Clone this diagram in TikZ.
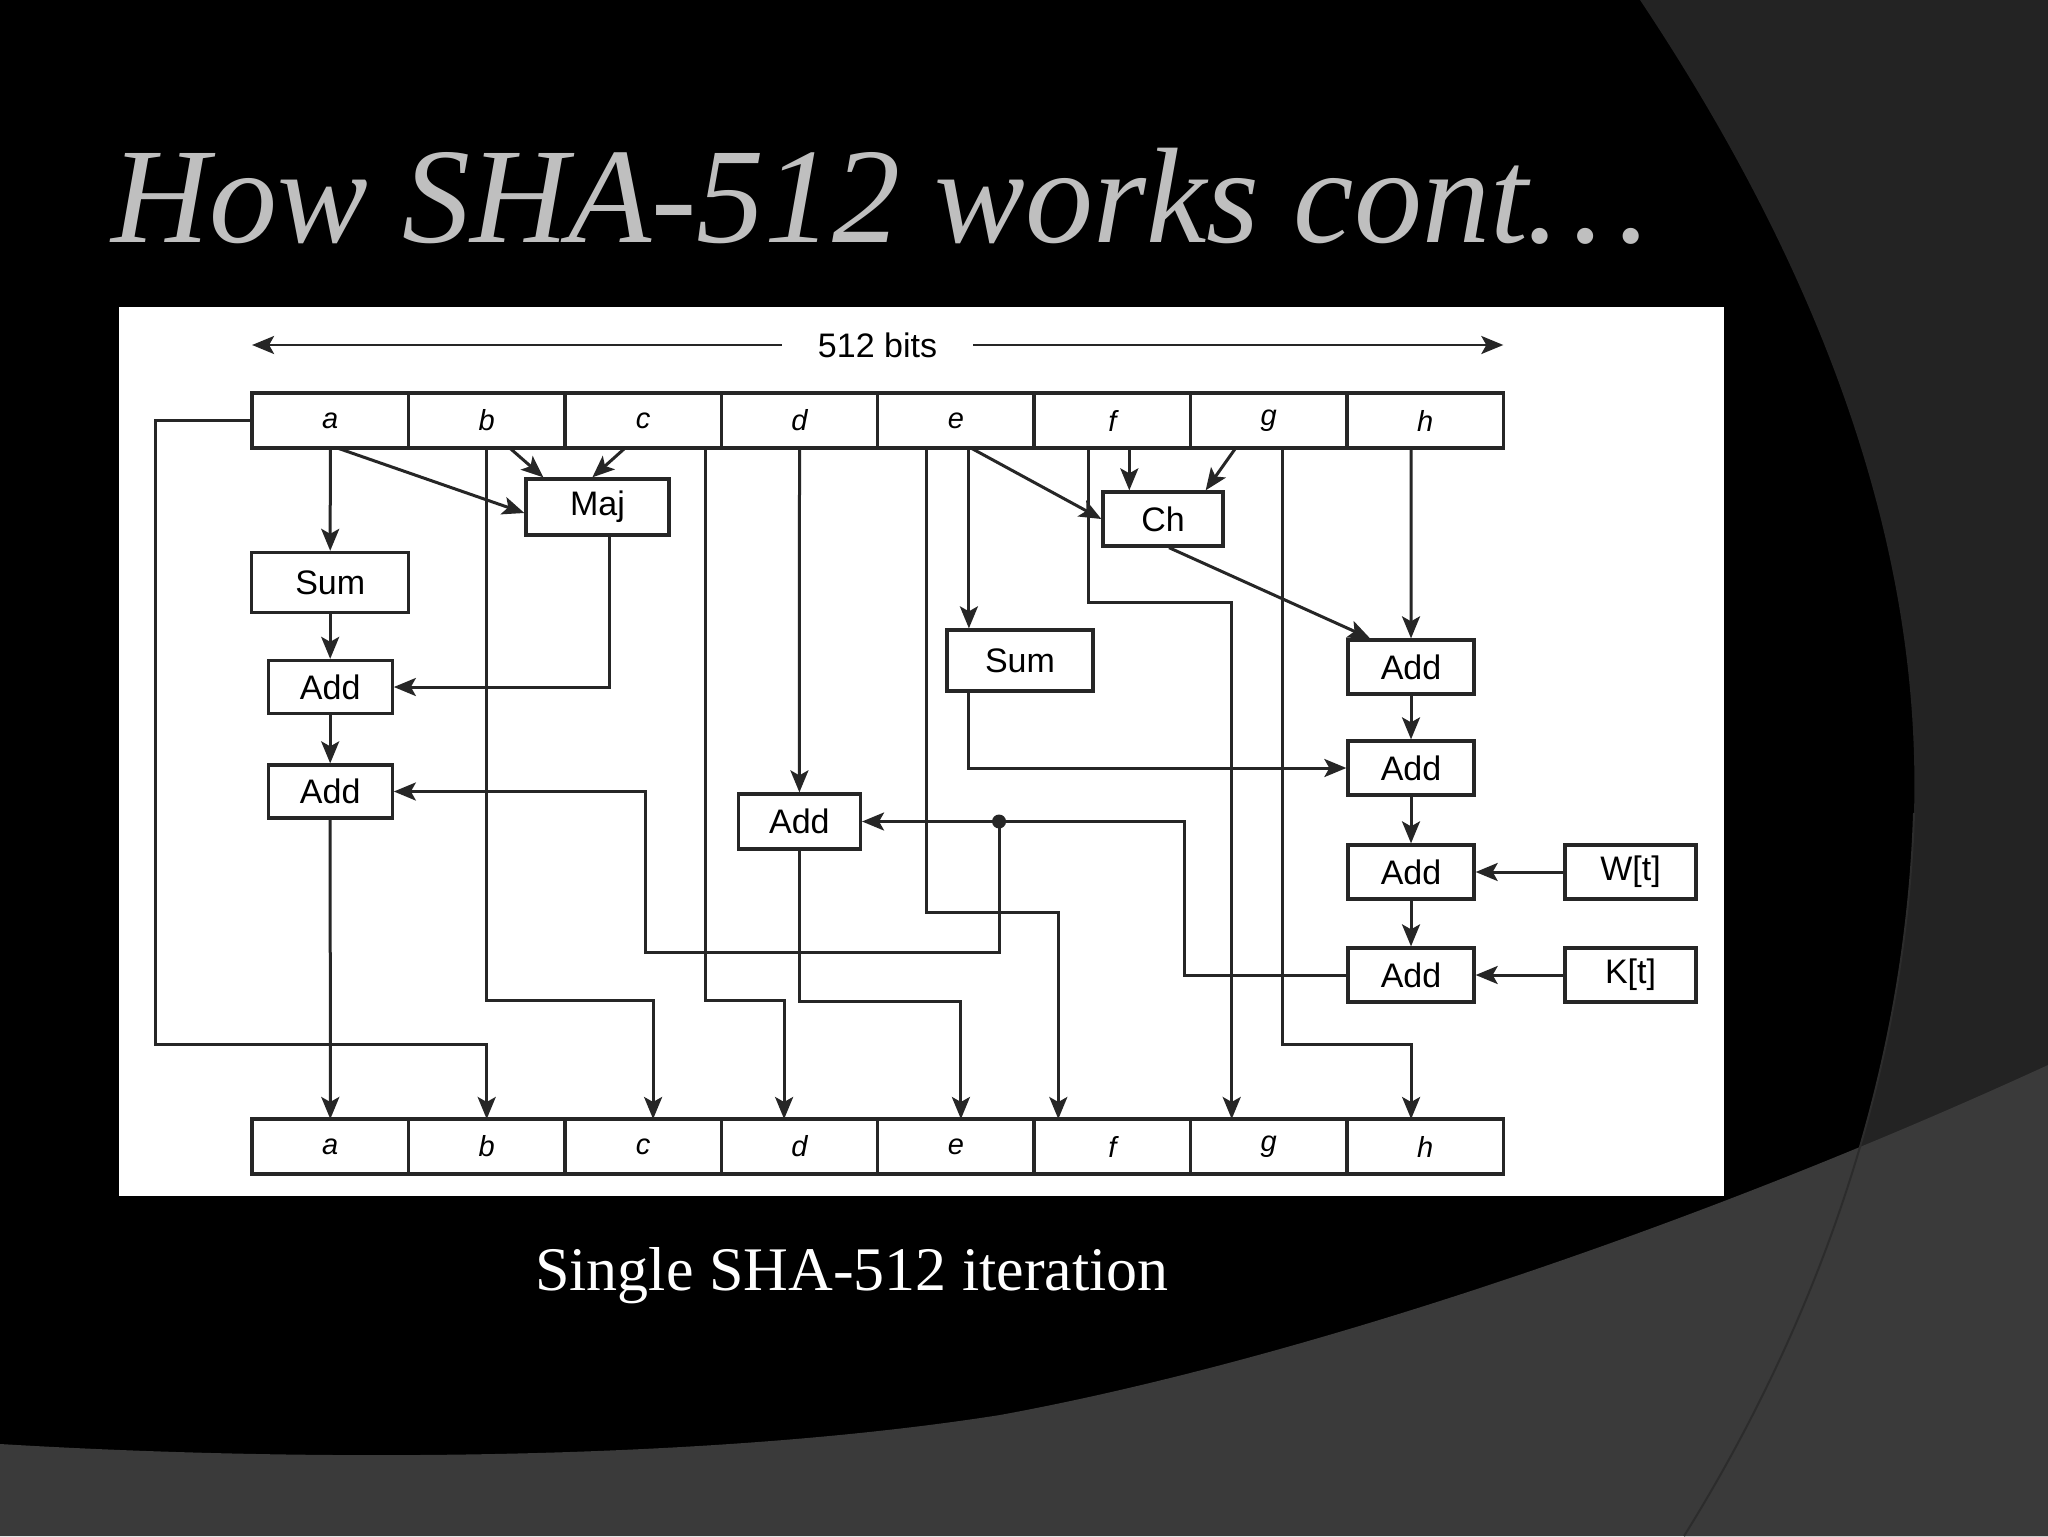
\documentclass[tikz,border=0pt]{standalone}
\usepackage{fontspec}
\setmainfont{Liberation Serif}
\newfontfamily\diagfont{Liberation Sans}
\usetikzlibrary{arrows.meta,calc}
\definecolor{bgdark}{HTML}{232323}
\definecolor{bgmid}{HTML}{3A3A3A}
\definecolor{titlegray}{HTML}{BFBFBF}
\definecolor{ink}{HTML}{262626}
\begin{document}
\begin{tikzpicture}[x=0.5pt,y=-0.5pt,
  boxnode/.style={draw=ink, line width=1.65pt, fill=white, inner sep=0pt,
    font=\diagfont\fontsize{17}{20}\selectfont},
  cellnode/.style={draw=ink, line width=1.65pt, fill=white, inner sep=0pt, outer sep=0pt,
    minimum width=78.2pt, minimum height=27.5pt,
    font=\diagfont\itshape\fontsize{14.5}{16}\selectfont},
  wire/.style={draw=ink, line width=1.5pt},
  arr/.style={wire, -{Stealth[length=11pt,width=9pt,inset=2.5pt]}}]
\useasboundingbox (0,0) rectangle (2048,1536);
% background
\fill[black] (0,0) rectangle (2048,1536);
\fill[bgdark] (1640,0) .. controls (1860,330) and (1920,600) .. (1914,813)
  .. controls (1905,1100) and (1800,1350) .. (1684,1536) -- (2048,1536) -- (2048,0) -- cycle;
\fill[bgmid] (0,1444) .. controls (300,1462) and (700,1462) .. (1000,1415)
  .. controls (1300,1360) and (1700,1225) .. (2048,1065) -- (2048,1536) -- (0,1536) -- cycle;
\draw[bgmid!75!black, line width=1pt] (1914,813) .. controls (1905,1100) and (1800,1350) .. (1684,1536);
% titles
\node[anchor=base west, text=titlegray, inner sep=0pt,
  font=\fontsize{68}{80}\selectfont\itshape] (title) at (111,242) {How SHA-512 works cont…};
\node[anchor=base, text=white, inner sep=0pt,
  font=\fontsize{31}{37}\selectfont] (sub) at (852,1290) {Single SHA-512 iteration};
% panel
\fill[white] (119,307) rectangle (1724,1196);
% registers
\foreach \l [count=\i from 0] in {a,b,c,d,e,f,g,h} {
  \node[cellnode] (t\l) at ({252.1+156.4*(\i+0.5)},420.5) {\l};
  \node[cellnode] (o\l) at ({252.1+156.4*(\i+0.5)},1146.5) {\l};
}
% 512 bits
\node[inner xsep=18pt, inner ysep=2pt, font=\diagfont\fontsize{17}{20}\selectfont] (bits) at (877.5,345) {512 bits};
\draw[arr, line width=1.2pt] (bits.west) -- (ta.north west |- bits.west);
\draw[arr, line width=1.2pt] (bits.east) -- (th.north east |- bits.east);
% boxes
\node[boxnode, minimum width=78.5pt, minimum height=30pt] (sumA) at (330.2,582.5) {Sum};
\node[boxnode, minimum width=62pt, minimum height=26.5pt] (addA1) at (330.2,687) {Add};
\node[boxnode, minimum width=62pt, minimum height=26.5pt] (addA2) at (330.2,791.5) {Add};
\node[boxnode, minimum width=71.5pt, minimum height=28pt] (maj) at (597.5,507) {Maj};
\node[boxnode, minimum width=61pt, minimum height=27.5pt] (addD) at (799.4,821.5) {Add};
\node[boxnode, minimum width=73pt, minimum height=30.5pt] (sumE) at (1020,660.5) {Sum};
\node[boxnode, minimum width=60pt, minimum height=27pt] (ch) at (1163,519) {Ch};
\node[boxnode, minimum width=63pt, minimum height=27pt] (addH1) at (1411,667) {Add};
\node[boxnode, minimum width=63pt, minimum height=27pt] (addH2) at (1411,768) {Add};
\node[boxnode, minimum width=63pt, minimum height=27pt] (addH3) at (1411,872) {Add};
\node[boxnode, minimum width=63pt, minimum height=27pt] (addH4) at (1411,975) {Add};
\node[boxnode, minimum width=65.5pt, minimum height=27pt] (wt) at (1630.5,872) {W[t]};
\node[boxnode, minimum width=65.5pt, minimum height=27pt] (kt) at (1630.5,975) {K[t]};
% column a
\draw[arr] (ta.south) -- (sumA.north);
\draw[arr] (sumA.south) -- (addA1.north);
\draw[arr] (addA1.south) -- (addA2.north);
\draw[arr] (addA2.south) -- (oa.north);
\draw[arr] ($(ta.south)+(7,0)$) -- ($(maj.west)+(0,6)$);
\draw[arr] ($(tb.south)+(23,0)$) -- ($(maj.north west)+(19,0)$);
\draw[arr] ($(tc.south)+(-18,0)$) -- ($(maj.north west)+(68,0)$);
\draw[arr] ($(maj.south)+(12,0)$) |- (addA1.east);
% feedback a -> b
\draw[arr] (ta.west) -- ++(-97,0) |- ($(ob.north)+(0,-75)$) -- (ob.north);
% b -> c
\draw[arr] (tb.south) -- ++(0,552) -| ($(oc.north)+(10,0)$);
% c -> d
\draw[arr] ($(tc.south)+(62,0)$) -- ++(0,552) -| ($(od.north)+(-15.4,0)$);
% d -> Add -> e
\draw[arr] (td.south) -- (addD.north);
\draw[arr] (addD.south) -- ++(0,151) -| ($(oe.north)+(5,0)$);
% e -> f
\draw[arr] ($(te.south)+(-29,0)$) -- ++(0,464) -| ($(of.north)+(-54,0)$);
% e -> Sum
\coordinate (eS) at ($(te.south)+(13,0)$);
\draw[arr] (eS) -- (eS |- sumE.north);
\draw[arr] (eS |- sumE.south) |- (addH2.west);
% e -> Ch
\draw[arr] ($(te.south)+(15,0)$) -- (ch.west);
% f -> g
\draw[arr] ($(tf.south)+(-24,0)$) -- ++(0,154) -| ($(og.north)+(-37,0)$);
% f -> Ch
\coordinate (fC) at ($(tf.south)+(17,0)$);
\draw[arr] (fC) -- (fC |- ch.north);
% g -> Ch
\draw[arr] ($(tg.south)+(-33,0)$) -- ($(ch.north east)+(-19,0)$);
% g -> h
\draw[arr] ($(tg.south)+(14,0)$) -- ++(0,596) -| ($(oh.north)+(-14,0)$);
% h chain
\draw[arr] ($(th.south)+(-14,0)$) -- (addH1.north);
\draw[arr] ($(ch.south)+(6,0)$) -- ($(addH1.north)+(-41,0)$);
\draw[arr] (addH1.south) -- (addH2.north);
\draw[arr] (addH2.south) -- (addH3.north);
\draw[arr] (addH3.south) -- (addH4.north);
\draw[arr] (wt.west) -- (addH3.east);
\draw[arr] (kt.west) -- (addH4.east);
% T1 distribution
\draw[arr] (addH4.west) -- ++(-162,0) |- (addD.east);
\coordinate (dot) at ($(addD.east)+(137,0)$);
\fill[ink] (dot) circle (3.5pt);
\draw[arr] (dot) -- ++(0,130.5) -| ($(addA2.east)+(252,0)$) -- (addA2.east);
\end{tikzpicture}
\end{document}
